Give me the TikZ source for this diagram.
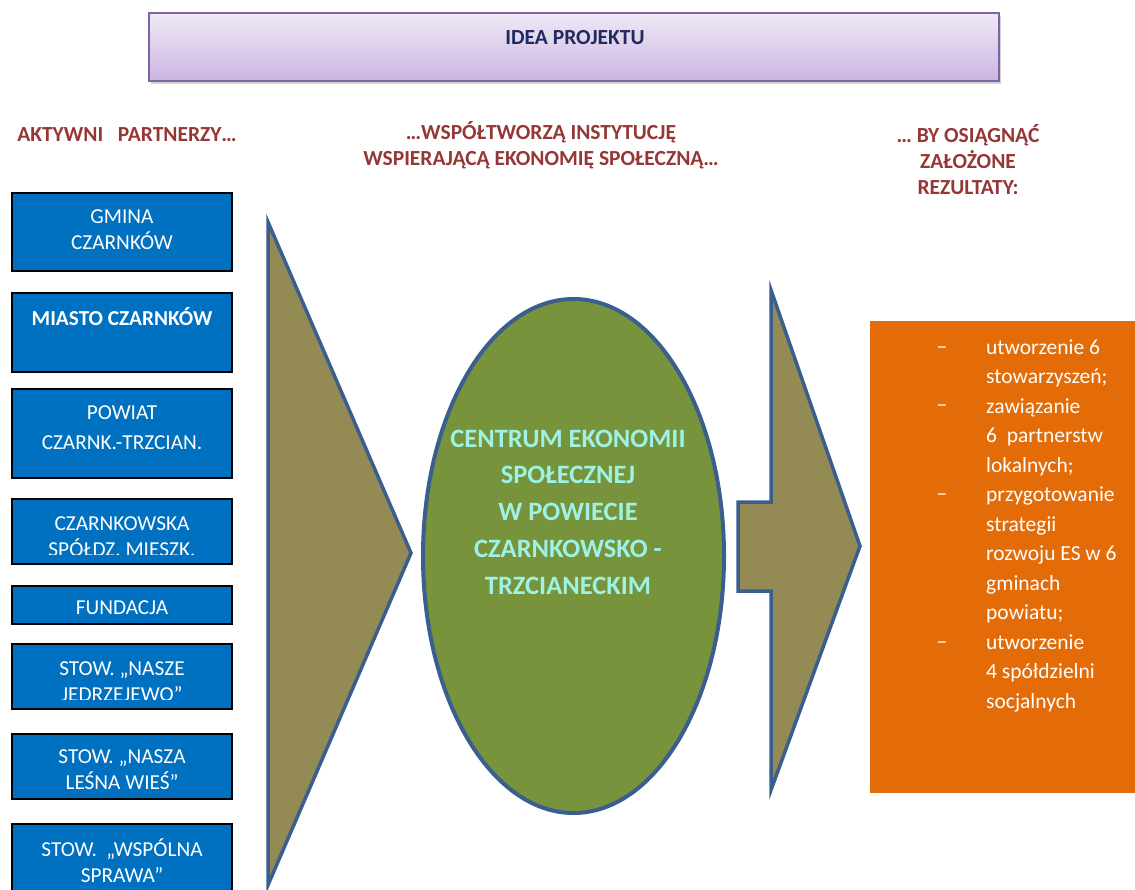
\documentclass[tikz,border=0pt]{standalone}
\usepackage{fontspec}
\setmainfont{Carlito}
\usetikzlibrary{shadows,shapes.geometric}
\definecolor{boxblue}{HTML}{0070C0}
\definecolor{arrowfill}{HTML}{948A54}
\definecolor{edgeblue}{HTML}{3A5F8F}
\definecolor{ellgreen}{HTML}{77933C}
\definecolor{resorange}{HTML}{E36C09}
\definecolor{headred}{HTML}{953735}
\definecolor{topnavy}{HTML}{1F2A5E}
\definecolor{toptop}{HTML}{EFE9F6}
\definecolor{topbot}{HTML}{CBB5E2}
\definecolor{topedge}{HTML}{8064A2}
\definecolor{aqua}{HTML}{9EF2E4}
\begin{document}
\begin{tikzpicture}[x=1pt,y=-1pt,
  pbox/.style={draw=black, line width=2.5pt, fill=boxblue, minimum width=220pt, inner sep=0pt},
  ptext/.style={text=white, font=\fontsize{21.3}{26}\selectfont, align=center, inner sep=0pt},
  head/.style={text=headred, font=\bfseries\fontsize{21.5}{26}\selectfont, align=center, inner sep=0pt},
  bigarrow/.style={draw=edgeblue, line width=3.5pt, fill=arrowfill, line join=miter},
  topbox/.style={draw=topedge, line width=2pt, top color=toptop, bottom color=topbot,
    minimum width=850pt, minimum height=68pt, inner sep=0pt,
    drop shadow={shadow xshift=2pt, shadow yshift=-3pt, opacity=0.35}},
  restext/.style={text=white, font=\fontsize{21.5}{29.5}\selectfont, inner sep=0pt},
]
\useasboundingbox (0,0) rectangle (1135,889);

% title
\node[topbox] (top) at (574,47) {};
\node[text=topnavy, font=\bfseries\fontsize{21.5}{24}\selectfont, inner sep=0pt] (idea) at (575,38) {IDEA PROJEKTU};

% headings
\node[head] (h1) at (127,135) {AKTYWNI\ \ \ PARTNERZY…};
\node[head] (h2) at (541,145) {…WSPÓŁTWORZĄ INSTYTUCJĘ\\WSPIERAJĄCĄ EKONOMIĘ SPOŁECZNĄ…};
\node[head, align=center] (h3) at (968,160) {… BY OSIĄGNĄĆ\\ZAŁOŻONE\\REZULTATY:};

% partner boxes
\node[pbox, minimum height=78pt] (p1) at (122,232) {};
\node[ptext] (p1t) at (122,230) {GMINA\\CZARNKÓW};

\node[pbox, minimum height=79pt] (p2) at (122,332.5) {};
\node[ptext, font=\bfseries\fontsize{21.3}{26}\selectfont] (p2t) at (122,317) {MIASTO CZARNKÓW};

\node[pbox, minimum height=89pt] (p3) at (122,433.5) {};
\node[ptext, font=\fontsize{21.3}{30}\selectfont] (p3t) at (122,428) {POWIAT\\CZARNK.-TRZCIAN.};

\node[pbox, minimum height=65pt] (p4) at (122,531.5) {};
\begin{scope}
\clip (p4.north west) rectangle ([yshift=11pt]p4.south east);
\node[ptext] (p4t) at (122,536.5) {CZARNKOWSKA\\SPÓŁDZ. MIESZK.};
\end{scope}

\node[pbox, minimum height=38pt] (p5) at (122,605) {};
\begin{scope}
\clip (p5.north west) rectangle ([yshift=11pt]p5.south east);
\node[ptext] (p5t) at (122,608) {FUNDACJA};
\end{scope}

\node[pbox, minimum height=65pt] (p6) at (122,676.5) {};
\begin{scope}
\clip (p6.north west) rectangle ([yshift=11pt]p6.south east);
\node[ptext] (p6t) at (122,681.5) {STOW. „NASZE\\JEDRZEJEWO”};
\end{scope}

\node[pbox, minimum height=65pt] (p7) at (122,766.5) {};
\node[ptext] (p7t) at (122,770) {STOW. „NASZA\\LEŚNA WIEŚ”};

\node[pbox, minimum height=82pt] (p8) at (122,865) {};
\node[ptext] (p8t) at (122,860.5) {STOW.\ \ „WSPÓLNA\\SPRAWA”};

% left arrow (triangle)
\draw[bigarrow] (268,222) -- (411,553) -- (268,885) -- cycle;

% central ellipse
\node[ellipse, draw=edgeblue, line width=4pt, fill=ellgreen, minimum width=301pt, minimum height=514pt, inner sep=0pt] (cen) at (573.5,556) {};
\node[text=aqua, font=\bfseries\fontsize{26.5}{36.8}\selectfont, align=center, inner sep=0pt] (cent) at (568,512)
  {CENTRUM EKONOMII\\SPOŁECZNEJ\\W POWIECIE\\CZARNKOWSKO -\\TRZCIANECKIM};

% right arrow
\draw[bigarrow] (771,290) -- (860,546) -- (771,790) -- (771,591) -- (738,591) -- (738,502) -- (771,502) -- cycle;

% results box
\node[fill=resorange, minimum width=266pt, minimum height=472pt, anchor=north west, inner sep=0pt] (res) at (870,321) {};
\node[restext, align=left, anchor=north west] (rest) at (986,339)
  {utworzenie 6\\stowarzyszeń;\\zawiązanie\\6\ \ partnerstw\\lokalnych;\\przygotowanie\\strategii\\rozwoju ES w 6\\gminach\\powiatu;\\utworzenie\\4 spółdzielni\\socjalnych};
\node[restext] (d1) at (942,350) {–};
\node[restext] (d2) at (942,408) {–};
\node[restext] (d3) at (942,497) {–};
\node[restext] (d4) at (942,645) {–};
\end{tikzpicture}
\end{document}
